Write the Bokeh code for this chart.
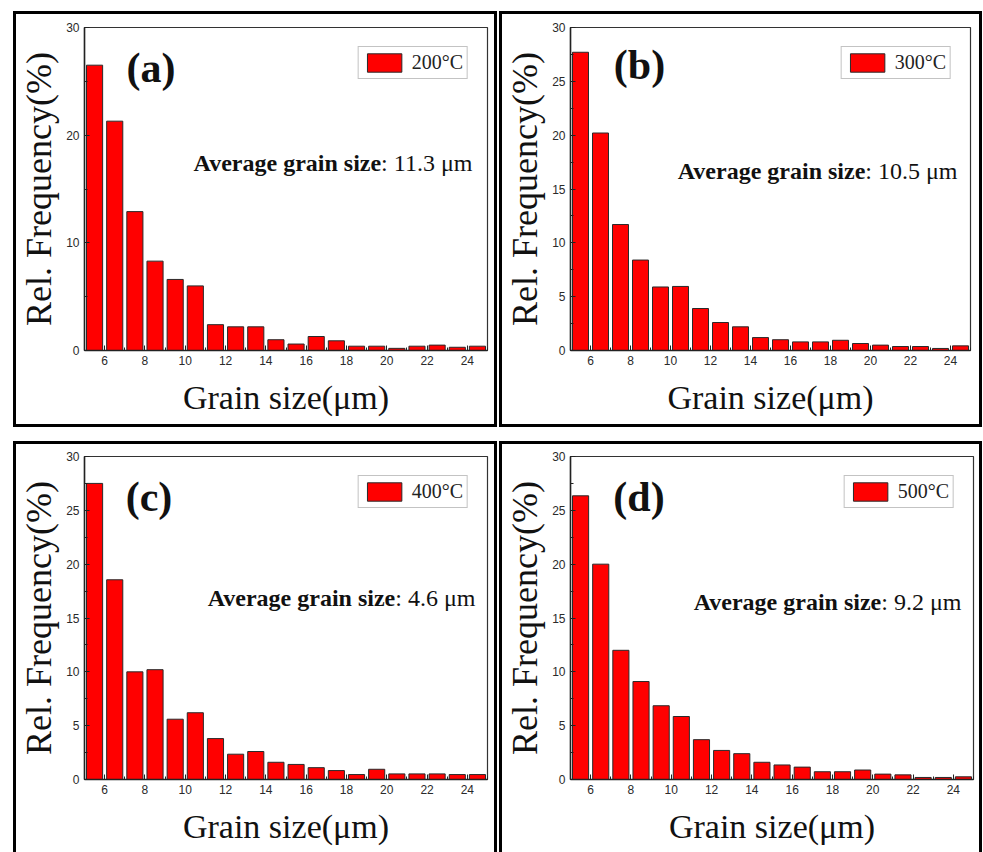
from bokeh.plotting import figure
from bokeh.models import SingleIntervalTicker, Legend, LegendItem, ColumnDataSource, Range1d
from bokeh.layouts import row, column
from bokeh.embed import file_html
from bokeh.resources import INLINE
from bokeh.core.properties import value

# ---- data ----
bin_centers = [5.5, 6.5, 7.5, 8.5, 9.5, 10.5, 11.5, 12.5, 13.5, 14.5,
               15.5, 16.5, 17.5, 18.5, 19.5, 20.5, 21.5, 22.5, 23.5, 24.5]
freq_200 = [26.5, 21.3, 12.9, 8.3, 6.6, 6.0, 2.4, 2.2, 2.2, 1.0,
            0.6, 1.3, 0.9, 0.4, 0.4, 0.2, 0.4, 0.5, 0.3, 0.4]
freq_300 = [27.7, 20.2, 11.7, 8.4, 5.9, 5.95, 3.9, 2.6, 2.2, 1.2,
            1.0, 0.8, 0.8, 0.95, 0.65, 0.5, 0.37, 0.37, 0.19, 0.43]
freq_400 = [27.5, 18.55, 10.0, 10.2, 5.6, 6.2, 3.8, 2.35, 2.6, 1.6,
            1.4, 1.1, 0.83, 0.46, 0.95, 0.52, 0.52, 0.52, 0.46, 0.46]
freq_500 = [26.35, 20.0, 12.0, 9.1, 6.85, 5.85, 3.7, 2.7, 2.4, 1.6,
            1.35, 1.15, 0.72, 0.72, 0.88, 0.5, 0.43, 0.19, 0.19, 0.25]
panel_letters = ["(a)", "(b)", "(c)", "(d)"]
temperatures = ["200°C", "300°C", "400°C", "500°C"]
avg_values = [": 11.3 μm", ": 10.5 μm", ": 4.6 μm", ": 9.2 μm"]
avg_label = "Average grain size"
x_label = "Grain size(μm)"
y_label = "Rel. Frequency(%)"

SERIF = "Liberation Serif"
SANS = "Liberation Sans"


def make_panel(letter, temp, freqs, avg, ytick, w, h, mb, letter_pos, avg_pos, styles):
    p = figure(width=w, height=h, x_range=Range1d(5, 25), y_range=Range1d(0, 30),
               output_backend="svg", toolbar_location=None,
               min_border_left=mb[0], min_border_right=mb[1],
               min_border_top=mb[2], min_border_bottom=mb[3])
    p.styles = styles
    p.grid.visible = False
    p.outline_line_color = "#333333"
    p.outline_line_width = 1.2
    p.background_fill_color = "white"
    p.border_fill_color = "white"

    src = ColumnDataSource(dict(x=bin_centers, top=freqs))
    r = p.vbar(x="x", top="top", width=0.8, source=src,
               fill_color="#ff0000", line_color="#2a2a2a", line_width=1)

    p.xaxis.ticker = SingleIntervalTicker(interval=2, num_minor_ticks=2)
    p.yaxis.ticker = SingleIntervalTicker(interval=ytick, num_minor_ticks=2)
    for ax in (p.xaxis[0], p.yaxis[0]):
        ax.major_tick_in = 5
        ax.major_tick_out = 0
        ax.minor_tick_in = 3
        ax.minor_tick_out = 0
        ax.axis_line_color = "#222222"
        ax.axis_line_width = 1.5
        ax.major_tick_line_color = "#222222"
        ax.minor_tick_line_color = "#222222"
        ax.major_label_text_font = SANS
        ax.major_label_text_font_size = "12px"
        ax.major_label_text_color = "#2a2a2a"
        ax.axis_label_text_font = SERIF
        ax.axis_label_text_font_style = "normal"
        ax.axis_label_text_color = "#111111"
        ax.major_label_standoff = 5
    p.xaxis.axis_label = x_label
    p.xaxis.axis_label_text_font_size = "34px"
    p.xaxis.axis_label_standoff = 11
    p.yaxis.axis_label = y_label
    p.yaxis.axis_label_text_font_size = "36px"
    p.yaxis.axis_label_standoff = 4

    p.text(x=[letter_pos[0]], y=[letter_pos[1]], text=[letter],
           text_font=value(SERIF), text_font_style="bold", text_font_size="42px",
           text_align="center", text_baseline="middle", text_color="#111111")
    p.text(x=[avg_pos[0]], y=[avg_pos[1]], text=[avg_label],
           text_font=value(SERIF), text_font_style="bold", text_font_size="24px",
           text_align="right", text_baseline="alphabetic", text_color="#111111")
    p.text(x=[avg_pos[0]], y=[avg_pos[1]], text=[avg],
           text_font=value(SERIF), text_font_style="normal", text_font_size="24px",
           text_align="left", text_baseline="alphabetic", text_color="#111111")

    legend = Legend(items=[LegendItem(label=temp, renderers=[r])],
                    location="top_right", margin=19, padding=4, spacing=0,
                    glyph_width=43, glyph_height=23, label_standoff=6,
                    label_text_font=SERIF, label_text_font_size="20px",
                    label_text_color="#222222", label_height=23,
                    border_line_color="#888888", border_line_width=1,
                    background_fill_alpha=1.0)
    p.add_layout(legend)
    return p


full_border = {"box-sizing": "content-box", "border": "3px solid black"}
open_bottom = {"box-sizing": "content-box",
               "border-left": "3px solid black", "border-right": "3px solid black",
               "border-top": "3px solid black", "border-bottom": "0px none"}

pa = make_panel(panel_letters[0], temperatures[0], freq_200, avg_values[0], 10,
                478, 410, (66, 13, 12, 77), (8.3, 26.2), (19.72, 17.4), full_border)
pb = make_panel(panel_letters[1], temperatures[1], freq_300, avg_values[1], 5,
                477, 410, (62, 15, 13, 80), (8.45, 26.5), (19.74, 16.7), full_border)
pc = make_panel(panel_letters[2], temperatures[2], freq_400, avg_values[2], 5,
                478, 408, (66, 13, 12, 73), (8.2, 26.2), (20.42, 16.9), open_bottom)
pd = make_panel(panel_letters[3], temperatures[3], freq_500, avg_values[3], 5,
                477, 408, (63, 12, 12, 76), (8.4, 26.2), (20.42, 16.45), open_bottom)

layout = column(row(pa, pb, spacing=2), row(pc, pd, spacing=2), spacing=14,
                margin=(11, 0, 0, 13))

open("out.html", "w").write(file_html(layout, INLINE))
